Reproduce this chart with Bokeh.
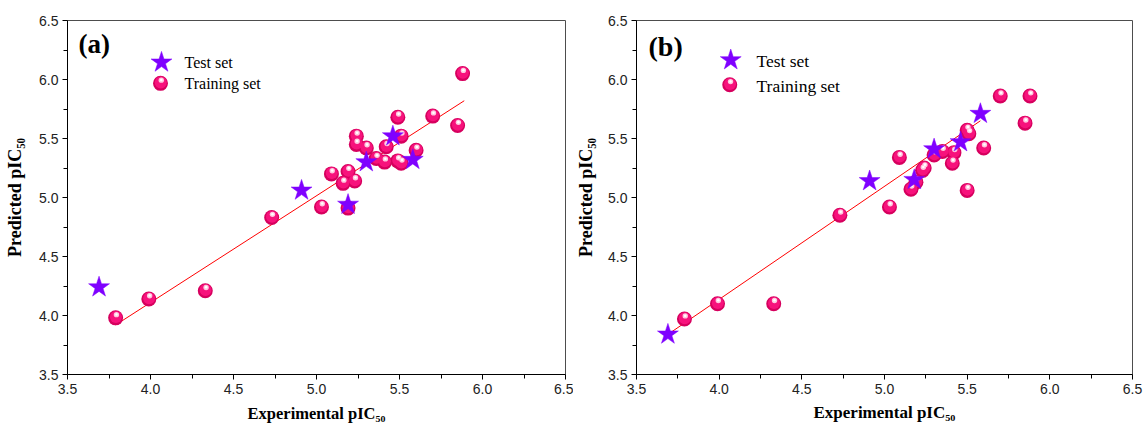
import math
from bokeh.plotting import figure
from bokeh.layouts import row
from bokeh.models import Label, Range1d, FixedTicker, PrintfTickFormatter
from bokeh.embed import file_html
from bokeh.resources import INLINE

# ---------------- data ----------------
# panel (a)
train_exp_a = [3.79, 3.99, 4.33, 4.73, 5.03, 5.09, 5.16, 5.19, 5.19, 5.23, 5.24, 5.24,
               5.30, 5.36, 5.41, 5.42, 5.49, 5.49, 5.51, 5.51, 5.60, 5.70, 5.85, 5.88]
train_pred_a = [3.98, 4.14, 4.21, 4.83, 4.92, 5.20, 5.12, 5.22, 4.91, 5.14, 5.52, 5.45,
                5.42, 5.33, 5.30, 5.43, 5.68, 5.31, 5.52, 5.29, 5.40, 5.69, 5.61, 6.05]
test_exp_a = [3.69, 4.91, 5.19, 5.30, 5.46, 5.58]
test_pred_a = [4.24, 5.06, 4.94, 5.30, 5.52, 5.32]
fit_exp_a = [3.79, 5.89]
fit_pred_a = [3.92, 5.82]

# panel (b)
train_exp_b = [3.79, 3.99, 4.33, 4.73, 5.03, 5.09, 5.16, 5.19, 5.23, 5.24, 5.30, 5.35,
               5.41, 5.42, 5.50, 5.50, 5.51, 5.60, 5.70, 5.85, 5.88]
train_pred_b = [3.97, 4.10, 4.10, 4.85, 4.92, 5.34, 5.07, 5.13, 5.23, 5.25, 5.36, 5.39,
                5.29, 5.38, 5.06, 5.57, 5.54, 5.42, 5.86, 5.63, 5.86]
test_exp_b = [3.69, 4.91, 5.18, 5.30, 5.46, 5.58]
test_pred_b = [3.84, 5.14, 5.15, 5.41, 5.47, 5.71]
fit_exp_b = [3.69, 5.58]
fit_pred_b = [3.84, 5.65]

ticks = [3.5, 4.0, 4.5, 5.0, 5.5, 6.0, 6.5]
minor_ticks = [3.75, 4.25, 4.75, 5.25, 5.75, 6.25]
axis_min, axis_max = 3.5, 6.5
legend_labels = ["Test set", "Training set"]
panel_tags = ["(a)", "(b)"]
x_title = "Experimental pIC\u2085\u2080"
y_title = "Predicted pIC\u2085\u2080"

# ---------------- styles ----------------
STAR = "#7F00FF"
PINK_DARK = "#D6005E"
PINK = "#F7127C"
PINK_HI = "#FFC8DF"
SERIF = "Liberation Serif"
SANS = "Liberation Sans"


def make_panel(tag, tx, ty, sx, sy, fx, fy, g):
    fw = g["w"] - g["bl"] - g["br"]
    fh = g["h"] - g["bt"] - g["bb"]
    p = figure(width=g["w"], height=g["h"],
               x_range=Range1d(axis_min, axis_max), y_range=Range1d(axis_min, axis_max),
               output_backend="svg", toolbar_location=None,
               min_border_left=g["bl"], min_border_right=g["br"],
               min_border_top=g["bt"], min_border_bottom=g["bb"])
    p.grid.visible = False
    p.outline_line_color = "#4d4d4d"
    p.outline_line_width = 1
    p.background_fill_color = "white"
    p.border_fill_color = "white"
    for ax in (p.xaxis[0], p.yaxis[0]):
        ax.ticker = FixedTicker(ticks=ticks, minor_ticks=minor_ticks)
        ax.formatter = PrintfTickFormatter(format="%.1f")
        ax.axis_line_color = "black"
        ax.major_tick_line_color = "black"
        ax.minor_tick_line_color = "black"
        ax.major_tick_out = 5
        ax.major_tick_in = 0
        ax.minor_tick_out = 4
        ax.minor_tick_in = 0
        ax.major_label_text_font = SANS
        ax.major_label_text_font_size = "14px"
        ax.major_label_text_color = "#222222"
        ax.major_label_standoff = 4
        ax.axis_label_text_font = SERIF
        ax.axis_label_text_font_style = "bold"
        ax.axis_label_text_color = "black"
    p.xaxis[0].axis_label = x_title
    p.xaxis[0].axis_label_text_font_size = g["xt_fs"]
    p.xaxis[0].axis_label_standoff = g["xt_s"]
    p.yaxis[0].axis_label = y_title
    p.yaxis[0].axis_label_text_font_size = g["yt_fs"]
    p.yaxis[0].axis_label_standoff = g["yt_s"]

    dxp = (axis_max - axis_min) / fw   # data units per pixel
    dyp = (axis_max - axis_min) / fh

    # regression line
    p.line(fx, fy, line_color="#FF0000", line_width=1)

    # training set: shaded spheres
    def sphere(xs, ys, size):
        p.scatter(xs, ys, marker="circle", size=size, fill_color=PINK_DARK, line_color=None)
        p.scatter([v + 0.3 * dxp for v in xs], [v + 0.8 * dyp for v in ys], marker="circle",
                  size=size * 0.8, fill_color=PINK, line_color=None)
        p.scatter([v + 0.8 * dxp for v in xs], [v + 3.2 * dyp for v in ys], marker="circle",
                  size=size * 0.36, fill_color=PINK_HI, line_color=None)
        p.scatter([v + 0.8 * dxp for v in xs], [v + 3.4 * dyp for v in ys], marker="circle",
                  size=size * 0.17, fill_color="white", line_color=None)

    sphere(tx, ty, 15)
    p.scatter(sx, sy, marker="star", size=22, fill_color=STAR, line_color=STAR, line_width=0.5)

    # legend (manual)
    lx, ly1, ly2 = g["leg_x"], g["leg_y1"], g["leg_y2"]
    p.scatter([axis_min + lx * dxp], [axis_max - ly1 * dyp], marker="star", size=22,
              fill_color=STAR, line_color=STAR, line_width=0.5)
    sphere([axis_min + (lx - 1) * dxp], [axis_max - ly2 * dyp], 15)
    for txt, yy in ((legend_labels[0], ly1), (legend_labels[1], ly2)):
        p.add_layout(Label(x=axis_min, y=axis_max, x_offset=g["leg_tx"], y_offset=-yy,
                           text=txt, text_font=SERIF, text_font_size=g["leg_fs"],
                           text_color="black", text_baseline="middle", text_align="left"))

    # panel tag
    p.add_layout(Label(x=axis_min, y=axis_max, x_offset=g["tag_x"], y_offset=-g["tag_y"],
                       text=tag, text_font=SERIF, text_font_size=g["tag_fs"],
                       text_font_style="bold", text_color="black",
                       text_baseline="middle", text_align="left"))
    return p


geom_a = dict(w=573, h=433, bl=67, br=8, bt=19, bb=59,
              leg_x=94, leg_y1=42, leg_y2=63, leg_tx=117, leg_fs="16px",
              tag_x=11, tag_y=23, tag_fs="27px",
              xt_fs="16.5px", xt_s=7, yt_fs="18px", yt_s=11)
geom_b = dict(w=570, h=433, bl=59, br=11, bt=20, bb=55,
              leg_x=95, leg_y1=40, leg_y2=65, leg_tx=120, leg_fs="17.5px",
              tag_x=12, tag_y=26, tag_fs="28px",
              xt_fs="17px", xt_s=6, yt_fs="18px", yt_s=9)

pa = make_panel(panel_tags[0], train_exp_a, train_pred_a, test_exp_a, test_pred_a,
                fit_exp_a, fit_pred_a, geom_a)
pb = make_panel(panel_tags[1], train_exp_b, train_pred_b, test_exp_b, test_pred_b,
                fit_exp_b, fit_pred_b, geom_b)

layout = row(pa, pb, spacing=0)
open("out.html", "w").write(file_html(layout, INLINE))
